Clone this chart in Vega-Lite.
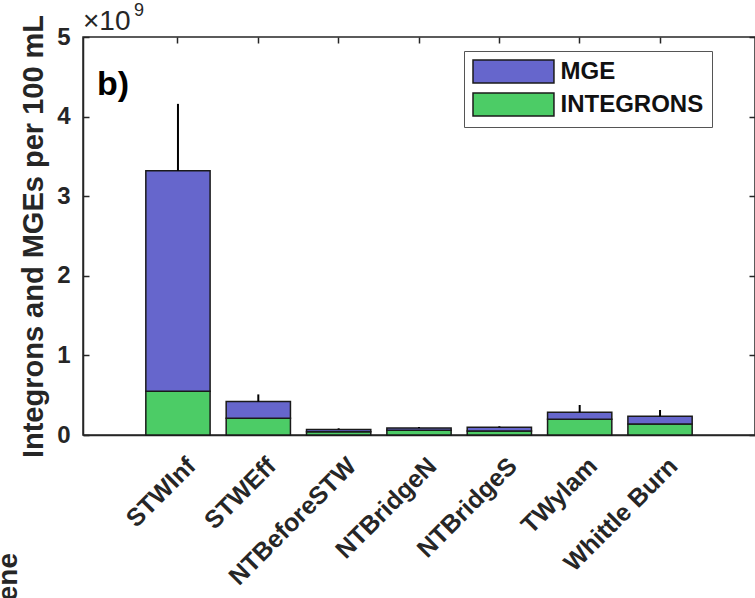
{
  "$schema": "https://vega.github.io/schema/vega-lite/v6.json",
  "width": 672,
  "height": 398,
  "autosize": {"type": "none"},
  "padding": {"left": 83, "top": 37, "right": 0, "bottom": 163},
  "background": "white",
  "config": {
    "font": "Liberation Sans",
    "view": {"stroke": "#262626", "strokeWidth": 1.5}
  },
  "datasets": {
    "bars": [
      {"site": "STWInf", "type": "INTEGRONS", "value": 550000000},
      {"site": "STWInf", "type": "MGE", "value": 2770000000},
      {"site": "STWEff", "type": "INTEGRONS", "value": 210000000},
      {"site": "STWEff", "type": "MGE", "value": 210000000},
      {"site": "NTBeforeSTW", "type": "INTEGRONS", "value": 40000000},
      {"site": "NTBeforeSTW", "type": "MGE", "value": 30000000},
      {"site": "NTBridgeN", "type": "INTEGRONS", "value": 60000000},
      {"site": "NTBridgeN", "type": "MGE", "value": 28000000},
      {"site": "NTBridgeS", "type": "INTEGRONS", "value": 50000000},
      {"site": "NTBridgeS", "type": "MGE", "value": 47000000},
      {"site": "TWylam", "type": "INTEGRONS", "value": 197000000},
      {"site": "TWylam", "type": "MGE", "value": 88000000},
      {"site": "Whittle Burn", "type": "INTEGRONS", "value": 138000000},
      {"site": "Whittle Burn", "type": "MGE", "value": 97000000}
    ],
    "err": [
      {"site": "STWInf", "total": 3320000000, "upper": 4160000000},
      {"site": "STWEff", "total": 420000000, "upper": 510000000},
      {"site": "NTBeforeSTW", "total": 70000000, "upper": 84000000},
      {"site": "NTBridgeN", "total": 88000000, "upper": 100000000},
      {"site": "NTBridgeS", "total": 97000000, "upper": 110000000},
      {"site": "TWylam", "total": 285000000, "upper": 377000000},
      {"site": "Whittle Burn", "total": 235000000, "upper": 314000000}
    ],
    "notes": [{"t": "b)"}],
    "notes2": [{"t": "ene"}],
    "notes3": [{"t": "×10"}],
    "notes4": [{"t": "9"}]
  },
  "layer": [
    {
      "data": {"name": "bars"},
      "mark": {"type": "bar", "stroke": "#1a1a1a", "strokeWidth": 1.5},
      "encoding": {
        "x": {
          "field": "site", "type": "nominal", "sort": null,
          "scale": {"paddingInner": 0.2, "paddingOuter": 0.782},
          "axis": {
            "title": null, "labelAngle": -45, "labelFontSize": 25, "labelFontWeight": "bold",
            "labelColor": "#262626", "tickSize": -6, "tickWidth": 1.5, "tickColor": "#262626",
            "domainColor": "#262626", "domainWidth": 1.5, "labelPadding": 24, "labelOffset": 5
          }
        },
        "y": {
          "field": "value", "type": "quantitative", "stack": "zero",
          "scale": {"domain": [0, 5000000000], "nice": false},
          "axis": {
            "title": "Integrons and MGEs per 100 mL", "titleFontSize": 29, "titleFontWeight": "bold",
            "titleColor": "#262626", "titlePadding": 8,
            "values": [0, 1000000000, 2000000000, 3000000000, 4000000000, 5000000000],
            "labelExpr": "format(datum.value / 1e9, 'd')",
            "labelFontSize": 24, "labelFontWeight": "bold", "labelColor": "#262626",
            "tickSize": -6, "tickWidth": 1.5, "tickColor": "#262626",
            "domainColor": "#262626", "domainWidth": 1.5, "labelPadding": 19, "grid": false
          }
        },
        "color": {
          "field": "type", "type": "nominal",
          "scale": {"domain": ["MGE", "INTEGRONS"], "range": ["#6666cc", "#4ccc66"]},
          "legend": {
            "title": null, "orient": "none", "legendX": 381, "legendY": 14,
            "symbolType": "M-1,-1H6.04V1H-1Z", "symbolSize": 529,
            "symbolStrokeColor": "#1a1a1a", "symbolStrokeWidth": 1.5, "symbolOpacity": 1,
            "labelFontSize": 24, "labelFontWeight": "bold", "labelColor": "#111111",
            "labelOffset": 63.5, "rowPadding": 4, "padding": 8,
            "strokeColor": "#555555", "fillColor": "white"
          }
        },
        "order": {"field": "type", "sort": "ascending"}
      }
    },
    {
      "data": {"name": "err"},
      "mark": {"type": "rule", "color": "#000000", "strokeWidth": 2},
      "encoding": {
        "x": {
          "field": "site", "type": "nominal", "sort": null,
          "axis": {
            "orient": "top", "title": null, "labels": false, "domain": false,
            "tickSize": -6, "tickWidth": 1.5, "tickColor": "#262626"
          }
        },
        "y": {
          "field": "total", "type": "quantitative",
          "axis": {
            "orient": "right", "title": null, "labels": false, "domain": false, "grid": false,
            "values": [0, 1000000000, 2000000000, 3000000000, 4000000000, 5000000000],
            "tickSize": -6, "tickWidth": 1.5, "tickColor": "#262626"
          }
        },
        "y2": {"field": "upper"}
      }
    },
    {
      "data": {"name": "notes"},
      "mark": {"type": "text", "align": "left", "baseline": "alphabetic", "fontSize": 34, "fontWeight": "bold", "color": "#000000", "dx": -81},
      "encoding": {
        "x": {"datum": "STWInf", "axis": null},
        "y": {"datum": 4270000000, "axis": null},
        "text": {"field": "t"}
      }
    },
    {
      "data": {"name": "notes3"},
      "mark": {"type": "text", "align": "left", "baseline": "alphabetic", "fontSize": 28, "fontWeight": "normal", "color": "#262626", "dx": -95, "dy": -7},
      "encoding": {
        "x": {"datum": "STWInf", "axis": null},
        "y": {"datum": 5000000000, "axis": null},
        "text": {"field": "t"}
      }
    },
    {
      "data": {"name": "notes4"},
      "mark": {"type": "text", "align": "left", "baseline": "alphabetic", "fontSize": 18, "fontWeight": "normal", "color": "#262626", "dx": -44, "dy": -21},
      "encoding": {
        "x": {"datum": "STWInf", "axis": null},
        "y": {"datum": 5000000000, "axis": null},
        "text": {"field": "t"}
      }
    },
    {
      "data": {"name": "notes2"},
      "mark": {"type": "text", "align": "right", "baseline": "alphabetic", "angle": 270, "fontSize": 28, "fontWeight": "bold", "color": "#262626", "dy": -161},
      "encoding": {
        "x": {"datum": "STWInf", "axis": null},
        "y": {"datum": -1482000000, "axis": null},
        "text": {"field": "t"}
      }
    }
  ],
  "resolve": {"axis": {"x": "independent", "y": "independent"}}
}
